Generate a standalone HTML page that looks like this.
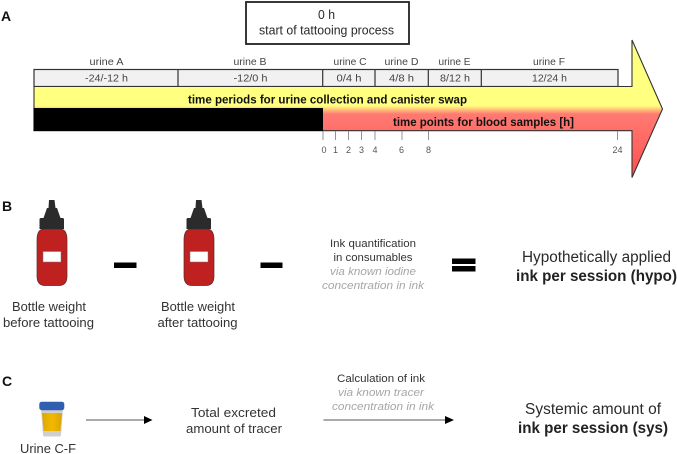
<!DOCTYPE html>
<html>
<head>
<meta charset="utf-8">
<style>
html,body{margin:0;padding:0;background:#fff;width:677px;height:454px;overflow:hidden}
svg{display:block;filter:blur(0.3px)}
text{font-family:"Liberation Sans",sans-serif;fill:#2a2a2a}
.c{font-size:10.5px;fill:#444;text-anchor:middle}
.t{font-size:9px;fill:#555;text-anchor:middle}
.g{font-size:11px;font-style:italic;fill:#a6a6a6;text-anchor:middle}
.k{font-size:11px;fill:#333;text-anchor:middle}
.m{font-size:13px;fill:#333}
.h{font-size:15.5px;fill:#2a2a2a;text-anchor:middle}
.b{font-size:15.5px;font-weight:bold;fill:#222;text-anchor:middle}
.l{font-size:14px;font-weight:bold;fill:#111}
.bd{font-size:12px;font-weight:bold;fill:#111;text-anchor:middle}
</style>
</head>
<body>
<svg width="677" height="454" viewBox="0 0 677 454" xmlns="http://www.w3.org/2000/svg">
<defs>
<linearGradient id="ar" gradientUnits="userSpaceOnUse" x1="0" y1="39" x2="0" y2="178">
<stop offset="0" stop-color="#ffff80"/>
<stop offset="0.48" stop-color="#ffff80"/>
<stop offset="0.54" stop-color="#ff7a72"/>
<stop offset="1" stop-color="#ff4f4f"/>
</linearGradient>
<linearGradient id="cup" x1="0" y1="0" x2="1" y2="0">
<stop offset="0" stop-color="#dba800"/>
<stop offset="0.5" stop-color="#f5b800"/>
<stop offset="1" stop-color="#dba600"/>
</linearGradient>
</defs>

<!-- top box -->
<rect x="246" y="2" width="163" height="42" fill="#fff" stroke="#222" stroke-width="1.8"/>
<text x="326.5" y="19" font-size="13" text-anchor="middle" textLength="17" lengthAdjust="spacingAndGlyphs" fill="#333">0 h</text>
<text x="326.5" y="34.5" font-size="13" text-anchor="middle" textLength="135" lengthAdjust="spacingAndGlyphs" fill="#333">start of tattooing process</text>

<text class="l" x="1" y="21">A</text>

<!-- urine labels -->
<text class="c" x="106.5" y="65" textLength="34" lengthAdjust="spacingAndGlyphs">urine A</text>
<text class="c" x="250" y="65" textLength="33" lengthAdjust="spacingAndGlyphs">urine B</text>
<text class="c" x="350" y="65" textLength="33" lengthAdjust="spacingAndGlyphs">urine C</text>
<text class="c" x="401.5" y="65" textLength="34" lengthAdjust="spacingAndGlyphs">urine D</text>
<text class="c" x="454.5" y="65" textLength="32" lengthAdjust="spacingAndGlyphs">urine E</text>
<text class="c" x="549" y="65" textLength="32" lengthAdjust="spacingAndGlyphs">urine F</text>

<!-- table -->
<rect x="34" y="69.5" width="584" height="17" fill="#f1f1f1" stroke="#333" stroke-width="1.2"/>
<g stroke="#333" stroke-width="1.2">
<line x1="178" y1="69.5" x2="178" y2="86.5"/>
<line x1="322.7" y1="69.5" x2="322.7" y2="86.5"/>
<line x1="375" y1="69.5" x2="375" y2="86.5"/>
<line x1="428.3" y1="69.5" x2="428.3" y2="86.5"/>
<line x1="481.3" y1="69.5" x2="481.3" y2="86.5"/>
</g>
<text class="c" x="106.5" y="81.5" textLength="43" lengthAdjust="spacingAndGlyphs">-24/-12 h</text>
<text class="c" x="250.5" y="81.5" textLength="34" lengthAdjust="spacingAndGlyphs">-12/0 h</text>
<text class="c" x="349" y="81.5" textLength="25" lengthAdjust="spacingAndGlyphs">0/4 h</text>
<text class="c" x="401.5" y="81.5" textLength="25" lengthAdjust="spacingAndGlyphs">4/8 h</text>
<text class="c" x="455" y="81.5" textLength="30" lengthAdjust="spacingAndGlyphs">8/12 h</text>
<text class="c" x="549.5" y="81.5" textLength="35" lengthAdjust="spacingAndGlyphs">12/24 h</text>

<!-- main arrow -->
<polygon points="34,86.5 632,86.5 632,40 662.5,109 632,177.5 632,130.7 34,130.7" fill="url(#ar)" stroke="#333" stroke-width="1.1"/>
<rect x="33.5" y="108" width="289.5" height="23" fill="#000"/>
<text class="bd" x="327.5" y="103.5" textLength="279" lengthAdjust="spacingAndGlyphs">time periods for urine collection and canister swap</text>
<text class="bd" x="483.5" y="126" textLength="181" lengthAdjust="spacingAndGlyphs">time points for blood samples [h]</text>

<!-- ticks -->
<g stroke="#888" stroke-width="0.9">
<line x1="323" y1="131" x2="323" y2="140"/>
<line x1="335.5" y1="131" x2="335.5" y2="140"/>
<line x1="348.5" y1="131" x2="348.5" y2="140"/>
<line x1="361.5" y1="131" x2="361.5" y2="140"/>
<line x1="375" y1="131" x2="375" y2="140"/>
<line x1="402" y1="131" x2="402" y2="140"/>
<line x1="428.5" y1="131" x2="428.5" y2="140"/>
<line x1="617.5" y1="131" x2="617.5" y2="140"/>
</g>
<text class="t" x="324" y="153">0</text>
<text class="t" x="335.5" y="153">1</text>
<text class="t" x="348.5" y="153">2</text>
<text class="t" x="361.5" y="153">3</text>
<text class="t" x="375" y="153">4</text>
<text class="t" x="401.5" y="153">6</text>
<text class="t" x="428.5" y="153">8</text>
<text class="t" x="617.5" y="153">24</text>

<!-- Panel B -->
<text class="l" x="2" y="211">B</text>

<path d="M37,240 q0,-11 7,-11 h16 q7,0 7,11 v36 q0,9.5 -8,9.5 h-14 q-8,0 -8,-9.5 z" fill="#bf2020" stroke="#5a2a2a" stroke-width="0.7"/>
<path d="M49,200 h5.5 l1,8 h1.5 l3.5,10 h2 q1.5,0 1.5,1.5 v9.5 h-24.5 v-9.5 q0,-1.5 1.5,-1.5 h2.5 l3.5,-10 h1.5 z" fill="#2b2b2b"/>
<rect x="43" y="251.5" width="18" height="10.5" fill="#fff" stroke="#777" stroke-width="0.5"/>

<path d="M184,240 q0,-11 7,-11 h16 q7,0 7,11 v36 q0,9.5 -8,9.5 h-14 q-8,0 -8,-9.5 z" fill="#bf2020" stroke="#5a2a2a" stroke-width="0.7"/>
<path d="M196,200 h5.5 l1,8 h1.5 l3.5,10 h2 q1.5,0 1.5,1.5 v9.5 h-24.5 v-9.5 q0,-1.5 1.5,-1.5 h2.5 l3.5,-10 h1.5 z" fill="#2b2b2b"/>
<rect x="190" y="251.5" width="18" height="10.5" fill="#fff" stroke="#777" stroke-width="0.5"/>

<rect x="114" y="262.5" width="22.5" height="5.5" fill="#000"/>
<rect x="260.5" y="262.5" width="22" height="5.5" fill="#000"/>

<text class="m" x="49" y="311" text-anchor="middle" textLength="74" lengthAdjust="spacingAndGlyphs">Bottle weight</text>
<text class="m" x="48.5" y="327" text-anchor="middle" textLength="91" lengthAdjust="spacingAndGlyphs">before tattooing</text>
<text class="m" x="198" y="311" text-anchor="middle" textLength="74" lengthAdjust="spacingAndGlyphs">Bottle weight</text>
<text class="m" x="197.5" y="327" text-anchor="middle" textLength="80" lengthAdjust="spacingAndGlyphs">after tattooing</text>

<text class="k" x="373" y="247" textLength="86" lengthAdjust="spacingAndGlyphs">Ink quantification</text>
<text class="k" x="373" y="261" textLength="79" lengthAdjust="spacingAndGlyphs">in consumables</text>
<text class="g" x="373" y="275" textLength="86" lengthAdjust="spacingAndGlyphs">via known iodine</text>
<text class="g" x="373" y="289" textLength="102" lengthAdjust="spacingAndGlyphs">concentration in ink</text>

<rect x="452" y="258.5" width="23.5" height="5.5" fill="#000"/>
<rect x="452" y="266" width="23.5" height="5.5" fill="#000"/>

<text class="h" x="596.5" y="262" textLength="149" lengthAdjust="spacingAndGlyphs">Hypothetically applied</text>
<text class="b" x="596.5" y="281" textLength="161" lengthAdjust="spacingAndGlyphs">ink per session (hypo)</text>

<!-- Panel C -->
<text class="l" x="2" y="386">C</text>

<path d="M41,409 h22 l-2,26 q-0.2,1.5 -2,1.5 h-14 q-1.8,0 -2,-1.5 z" fill="#cfcfcf"/>
<path d="M42,413 h20 l-1.6,18 h-16.8 z" fill="url(#cup)"/>
<rect x="39.3" y="401.7" width="25" height="8.5" rx="2.5" fill="#2e5fb0"/>

<line x1="86" y1="420" x2="145" y2="420" stroke="#555" stroke-width="0.9"/>
<polygon points="144,416 152.5,420 144,424" fill="#000"/>

<text class="m" x="20" y="453" textLength="56" lengthAdjust="spacingAndGlyphs">Urine C-F</text>
<text class="m" x="233.5" y="417" text-anchor="middle" textLength="85" lengthAdjust="spacingAndGlyphs">Total excreted</text>
<text class="m" x="234" y="433" text-anchor="middle" textLength="96" lengthAdjust="spacingAndGlyphs">amount of tracer</text>

<text class="k" x="381" y="382" textLength="88" lengthAdjust="spacingAndGlyphs">Calculation of ink</text>
<text class="g" x="381" y="396" textLength="86" lengthAdjust="spacingAndGlyphs">via known tracer</text>
<text class="g" x="383" y="410" textLength="102" lengthAdjust="spacingAndGlyphs">concentration in ink</text>

<line x1="323.5" y1="420" x2="446" y2="420" stroke="#555" stroke-width="0.9"/>
<polygon points="445,416 454,420 445,424" fill="#000"/>

<text class="h" x="593" y="414" textLength="136" lengthAdjust="spacingAndGlyphs">Systemic amount of</text>
<text class="b" x="593" y="433" textLength="150" lengthAdjust="spacingAndGlyphs">ink per session (sys)</text>
</svg>
</body>
</html>
